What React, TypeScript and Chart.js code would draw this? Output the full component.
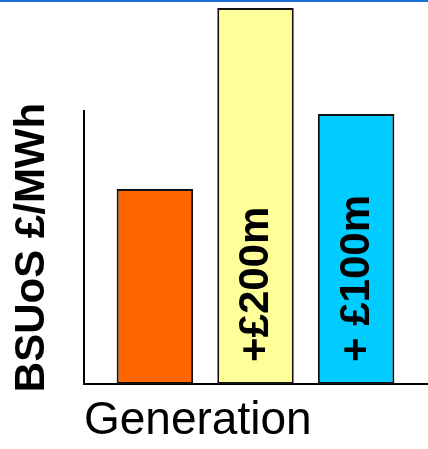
import React, { useEffect, useRef } from "react";
import { Chart, registerables } from "chart.js";

Chart.register(...registerables);

// ---- data ----
const categories = ["Generation"];
const seriesNames = ["Current", "+£200m", "+ £100m"];
const currentValues = [7.14];
const plus200Values = [13.77];
const plus100Values = [9.89];
const barNotes = ["", "+£200m", "+ £100m"];
const yAxisTitle = "BSUoS £/MWh";
const xAxisTitle = "Generation";
const yAxisMax = 10;

const FONT = "'Liberation Sans', Arial, Helvetica, sans-serif";

const barNotePlugin = {
  id: "barNotes",
  afterDatasetsDraw(chart: any) {
    const ctx = chart.ctx;
    const base = chart.scales.y.getPixelForValue(0);
    ctx.save();
    ctx.font = `bold 42px ${FONT}`;
    ctx.fillStyle = "#000000";
    ctx.textAlign = "left";
    ctx.textBaseline = "middle";
    chart.data.datasets.forEach((_ds: any, i: number) => {
      const note = barNotes[i];
      if (!note) return;
      const el = chart.getDatasetMeta(i).data[0];
      if (!el) return;
      ctx.save();
      ctx.translate(el.x + 1, base - 22);
      ctx.rotate(-Math.PI / 2);
      ctx.fillText(note, 0, 0);
      ctx.restore();
    });
    ctx.restore();
  },
};

export default function App() {
  const canvasRef = useRef<HTMLCanvasElement | null>(null);

  useEffect(() => {
    document.body.style.margin = "0";
    const canvas = canvasRef.current;
    if (!canvas) return;
    const common = {
      borderColor: "#111111",
      borderWidth: 2,
      borderSkipped: false,
      clip: false as any,
      categoryPercentage: 0.88,
      barPercentage: 0.76,
    };
    const chart = new Chart(canvas, {
      type: "bar",
      data: {
        labels: categories,
        datasets: [
          { label: seriesNames[0], data: currentValues, backgroundColor: "#FF6600", ...common },
          { label: seriesNames[1], data: plus200Values, backgroundColor: "#FFFF99", ...common },
          { label: seriesNames[2], data: plus100Values, backgroundColor: "#00CCFF", ...common },
        ],
      },
      options: {
        responsive: false,
        animation: false,
        layout: { padding: { top: 109, right: 1, left: 0, bottom: 0 } },
        plugins: {
          legend: { display: false },
          tooltip: { enabled: false },
          title: { display: false },
        },
        scales: {
          x: {
            grid: { display: false, drawTicks: false },
            ticks: { display: false },
            border: { display: true, color: "#000000", width: 2 },
            title: {
              display: true,
              text: xAxisTitle,
              align: "start",
              color: "#000000",
              font: { family: FONT, size: 46, weight: "normal" },
              padding: { top: 9.4, bottom: 0.4 },
            },
          },
          y: {
            min: 0,
            max: yAxisMax,
            grid: { display: false, drawTicks: false },
            ticks: { display: false },
            border: { display: true, color: "#000000", width: 2 },
            title: {
              display: true,
              text: yAxisTitle,
              color: "#000000",
              font: { family: FONT, size: 42, weight: "bold" },
              padding: { top: 7, bottom: 26.6 },
            },
          },
        },
      },
      plugins: [barNotePlugin],
    });
    return () => chart.destroy();
  }, []);

  return (
    <div style={{ position: "absolute", left: 0, top: 0, width: 428, height: 449, background: "#ffffff" }}>
      <div style={{ height: 2, background: "#1a6ed8" }} />
      <canvas ref={canvasRef} width={428} height={447} style={{ display: "block", width: 428, height: 447 }} />
    </div>
  );
}
